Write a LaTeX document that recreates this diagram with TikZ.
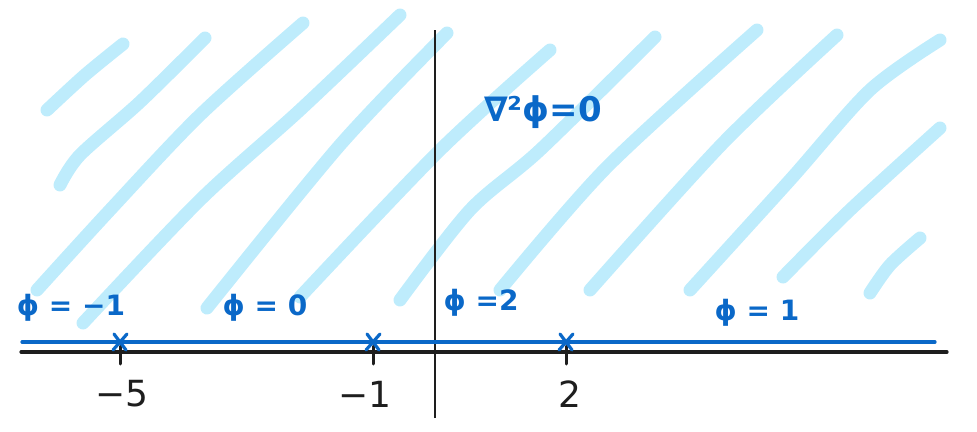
\documentclass[tikz,border=0pt]{standalone}
\usepackage{fontspec}
\setmainfont{DejaVu Sans}
\definecolor{hatch}{RGB}{190,236,252}
\definecolor{ink}{RGB}{10,104,200}
\definecolor{axis}{RGB}{30,30,30}
\begin{document}
\begin{tikzpicture}[x=1pt,y=-1pt,
  hatchline/.style={hatch,line width=13pt,line cap=round,line join=round},
  blueline/.style={ink,line width=3.2pt,line cap=round},
  axisline/.style={axis,line width=3.2pt,line cap=round},
  bluelabel/.style={ink,font=\fontsize{28}{32}\selectfont\bfseries,inner sep=0pt},
  ticklabel/.style={axis,font=\fontsize{36}{40}\selectfont,inner sep=0pt},
  crossmark/.style={ink,line width=3.2pt,line cap=round}]
\useasboundingbox (0,0) rectangle (977,431);
% hatching
\draw[hatchline] plot[smooth,tension=0.5] coordinates {(123,44) (85,75) (47,110)};
\draw[hatchline] plot[smooth,tension=0.5] coordinates {(205,38) (140,102) (80,155) (60,185)};
\draw[hatchline] plot[smooth,tension=0.5] coordinates {(303,23) (200,115) (110,210) (37,290)};
\draw[hatchline] plot[smooth,tension=0.5] coordinates {(400,15) (300,110) (200,200) (83,323)};
\draw[hatchline] plot[smooth,tension=0.5] coordinates {(447,33) (340,145) (207,308)};
\draw[hatchline] plot[smooth,tension=0.5] coordinates {(550,50) (440,150) (300,297)};
\draw[hatchline] plot[smooth,tension=0.5] coordinates {(655,37) (540,150) (470,210) (400,300)};
\draw[hatchline] plot[smooth,tension=0.5] coordinates {(757,30) (607,167) (500,290)};
\draw[hatchline] plot[smooth,tension=0.5] coordinates {(837,35) (723,143) (590,290)};
\draw[hatchline] plot[smooth,tension=0.5] coordinates {(940,40) (870,90) (790,180) (690,290)};
\draw[hatchline] plot[smooth,tension=0.5] coordinates {(940,128) (850,210) (783,277)};
\draw[hatchline] plot[smooth,tension=0.5] coordinates {(920,238) (890,265) (870,293)};
% axes
\coordinate (yb) at (435,418);
\coordinate (yt) at (435,30);
\draw[axis,line width=1.8pt] (yb) -- (yt);
\coordinate (xl) at (21,352);
\coordinate (xr) at (947,352);
\draw[axisline] (xl) -- (xr);
\coordinate (bl) at (22,342);
\coordinate (br) at (935,342);
\draw[blueline] (bl) -- (br);
% ticks and crosses
\foreach \n/\x in {m5/120, m1/373, p2/566}{
  \coordinate (t\n) at (\x,352);
  \draw[axisline,line width=3pt] (t\n) ++(0,-6) -- ++(0,18);
  \coordinate (c\n) at (\x,342);
  \draw[crossmark] (c\n) ++(-6,-8) -- ++(12,16);
  \draw[crossmark] (c\n) ++(7,-8) -- ++(-14,16);
}
% tick labels
\node[ticklabel] (lm5) at (122,394) {−5};
\node[ticklabel] (lm1) at (365,394) {−1};
\node[ticklabel] (lp2) at (570,394) {2};
% blue labels
\node[bluelabel] (phim1) at (71,308) {ϕ = −1};
\node[bluelabel] (phi0) at (265,308) {ϕ = 0};
\node[bluelabel] (phi2) at (481,303) {ϕ =2};
\node[bluelabel] (phi1) at (757,313) {ϕ = 1};
\node[bluelabel,font=\fontsize{34}{38}\selectfont\bfseries] (lap) at (543,112) {∇²ϕ=0};
\end{tikzpicture}
\end{document}
